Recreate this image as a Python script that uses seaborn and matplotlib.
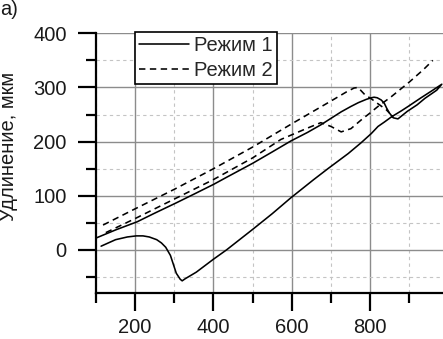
import matplotlib
matplotlib.use("Agg")
import matplotlib.pyplot as plt
from matplotlib.lines import Line2D
from matplotlib.ticker import MultipleLocator
import seaborn as sns
import pandas as pd

# ---- data ----
# Режим 1: one closed path (heating branch -> loop tip -> cooling branch)
mode1_x = [113, 150, 180, 203, 220, 236, 255, 267, 278, 290, 305, 315, 320, 328, 356,
           400, 433, 500, 550, 597, 656, 692, 744, 777, 803, 820, 836, 855, 880, 897,
           930, 960, 983, 970, 940, 920, 895, 871, 859, 849, 842, 836, 828, 818, 810,
           803, 790, 770, 751, 726, 674, 640, 597, 550, 500, 433, 400, 350, 305, 250,
           205, 150, 100]
mode1_y = [7, 19, 24, 26, 26, 24, 19, 13, 5, -10, -43, -54, -57, -53, -41,
           -17, 0, 38, 67, 96, 130, 150, 178, 198, 215, 228, 236, 246, 257, 265,
           281, 295, 306, 295, 280, 268, 256, 242, 244, 253, 262, 271, 277, 281, 282,
           281, 278, 272, 265, 255, 231, 217, 201, 181, 160, 134, 121, 103, 87, 68,
           52, 37, 22]

# Режим 2, branch A (upper dashed line)
mode2a_x = [118, 200, 300, 400, 500, 600, 700, 740, 759, 769, 786, 803, 818, 841, 849]
mode2a_y = [46, 76, 112, 150, 190, 233, 275, 292, 299, 300, 287, 279, 271, 259, 253]

# Режим 2, branch B (lower dashed line with dip)
mode2b_x = [125, 200, 300, 400, 500, 572, 640, 674, 700, 726, 751, 777, 800, 820, 854,
            900, 936, 960]
mode2b_y = [32, 58, 94, 130, 170, 204, 225, 235, 228, 218, 224, 240, 253, 265, 283,
            310, 333, 350]

series_labels = ["Режим 1", "Режим 2"]
y_label = "Удлинение, мкм"
panel_label = "a)"

# ---- style ----
sns.set_style("white")
plt.rcParams["font.family"] = ["Liberation Sans", "DejaVu Sans"]
FS = 14.5

fig = plt.figure(figsize=(4.43, 3.39), dpi=100)
ax = fig.add_axes([96 / 443, (339 - 293.3) / 339, 347 / 443, 260 / 339])

lw = 1.15
dash = (4, 2.8)

sns.lineplot(x=mode1_x, y=mode1_y, sort=False, estimator=None, color="black",
             linewidth=lw, ax=ax, legend=False)
sns.lineplot(x=mode2a_x, y=mode2a_y, sort=False, estimator=None, color="black",
             linewidth=lw, ax=ax, legend=False, dashes=False, linestyle=(0, dash))
sns.lineplot(x=mode2b_x, y=mode2b_y, sort=False, estimator=None, color="black",
             linewidth=lw, ax=ax, legend=False, dashes=False, linestyle=(0, dash))

ax.set_xlim(100, 986)
ax.set_ylim(-80, 400)

ax.xaxis.set_major_locator(MultipleLocator(200))
ax.xaxis.set_minor_locator(MultipleLocator(100))
ax.yaxis.set_major_locator(MultipleLocator(100))
ax.yaxis.set_minor_locator(MultipleLocator(50))

ax.grid(which="major", color="#8c8c8c", linewidth=1.0, linestyle="-")
ax.grid(which="minor", color="#c4c4c4", linewidth=0.8, linestyle=(0, (3, 3)))
ax.set_axisbelow(True)

for s in ["top", "right"]:
    ax.spines[s].set_visible(False)
for s in ["left", "bottom"]:
    ax.spines[s].set_color("black")
    ax.spines[s].set_linewidth(1.6)

ax.tick_params(axis="y", which="major", direction="out", length=13, width=1.6,
               color="black", labelsize=FS, pad=8, left=True)
ax.tick_params(axis="x", which="major", direction="out", length=13, width=1.6,
               color="black", labelsize=FS, pad=5, bottom=True)
ax.tick_params(which="minor", direction="out", length=7, width=1.6, color="black",
               left=True, bottom=True)
for t in ax.get_xticklabels() + ax.get_yticklabels():
    t.set_color("#1a1a1a")

ax.set_xlabel("")
ax.set_ylabel(y_label, fontsize=FS, color="#1a1a1a")
ax.yaxis.set_label_coords(-0.225, 0.563)

handles = [Line2D([], [], color="black", linewidth=lw),
           Line2D([], [], color="black", linewidth=lw, linestyle=(0, dash))]
leg = ax.legend(handles, series_labels, loc="upper left",
                bbox_to_anchor=(135 / 443, 1 - 32 / 339), bbox_transform=fig.transFigure,
                fontsize=FS, frameon=True, fancybox=False, framealpha=1,
                edgecolor="black", borderpad=0.2, handlelength=2.5,
                handletextpad=0.25, labelspacing=0.3, borderaxespad=0)
leg.get_frame().set_linewidth(1.2)

fig.text(0.0, 1.0, panel_label, ha="left", va="top", fontsize=FS, color="#1a1a1a")

fig.savefig("out.png", dpi=100)
